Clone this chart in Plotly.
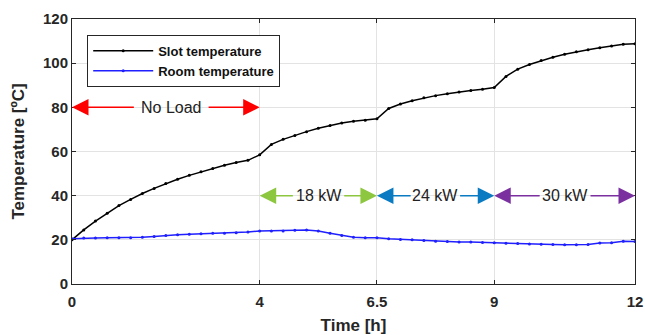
import plotly.graph_objects as go

time_h = [i * 0.25 for i in range(49)]
slot_temp = [20.0, 24.5, 28.5, 32.0, 35.5, 38.3, 41.0, 43.3, 45.5, 47.4, 49.2, 50.8, 52.3, 53.8,
             55.0, 56.0, 58.5, 63.2, 65.5, 67.3, 69.0, 70.5, 71.8, 72.9, 73.7, 74.2, 74.8,
             79.5, 81.5, 83.0, 84.3, 85.3, 86.2, 87.0, 87.6, 88.2, 89.0, 94.0, 97.3, 99.4,
             101.2, 102.7, 104.0, 105.2, 106.1, 107.0, 107.8, 108.6, 108.8]
room_temp = [20.5, 20.8, 20.8, 21.0, 21.0, 21.0, 21.2, 21.5, 22.0, 22.3, 22.5, 22.7, 23.0, 23.0,
             23.2, 23.5, 24.0, 24.0, 24.0, 24.3, 24.5, 24.0, 23.0, 22.0, 21.2, 21.0, 21.0,
             20.5, 20.2, 20.0, 19.7, 19.4, 19.2, 19.0, 19.0, 18.8, 18.7, 18.5, 18.3, 18.1,
             18.0, 17.9, 17.8, 17.8, 17.9, 18.6, 18.7, 19.4, 19.2]

x_ticks = [0, 4, 6.5, 9, 12]
y_ticks = [0, 20, 40, 60, 80, 100, 120]

# load periods: (start, end, label, text_left, text_right, y, color)
periods = [
    (0, 4, "No Load", 1.33, 2.9, 80, "#ff0000"),
    (4, 6.5, "18 kW", 4.72, 5.79, 40, "#8dc63f"),
    (6.5, 9, "24 kW", 7.23, 8.26, 40, "#0a7bc2"),
    (9, 12, "30 kW", 9.98, 11.04, 40, "#7b30a0"),
]

fig = go.Figure()
fig.add_trace(go.Scatter(x=time_h, y=slot_temp, mode="lines+markers", name="Slot temperature",
                         line=dict(color="black", width=1.5), marker=dict(size=3, color="black")))
fig.add_trace(go.Scatter(x=time_h, y=room_temp, mode="lines+markers", name="Room temperature",
                         line=dict(color="#1f1fff", width=1.5), marker=dict(size=3, color="#1f1fff")))

anns = []
for s, e, lab, tl, tr, y, c in periods:
    anns.append(dict(x=(tl + tr) / 2, y=y, text=lab, showarrow=False,
                     font=dict(size=16, color="#222222", family="Liberation Sans, Arial")))
    anns.append(dict(x=s, y=y, ax=tl + 0.02, ay=y, axref="x", ayref="y", xref="x", yref="y", text="",
                     showarrow=True, arrowhead=2, arrowsize=2.2, arrowwidth=1.5, arrowcolor=c,
                     standoff=0, startstandoff=0))
    anns.append(dict(x=e, y=y, ax=tr - 0.02, ay=y, axref="x", ayref="y", xref="x", yref="y", text="",
                     showarrow=True, arrowhead=2, arrowsize=2.2, arrowwidth=1.5, arrowcolor=c,
                     standoff=0, startstandoff=0))

fig.update_layout(
    width=645, height=335,
    margin=dict(l=72, r=10, t=19, b=51, autoexpand=False),
    plot_bgcolor="white", paper_bgcolor="white",
    font=dict(family="Liberation Sans, Arial", color="#262626"),
    showlegend=True,
    legend=dict(x=0.027, y=0.94, xanchor="left", yanchor="top", bgcolor="white",
                bordercolor="#262626", borderwidth=1, font=dict(size=13, color="#111111", weight="bold"),
                tracegroupgap=0, itemwidth=60),
    annotations=anns,
)
fig.update_xaxes(range=[0, 12], tickvals=x_ticks, ticktext=[str(v) for v in x_ticks],
                 showgrid=True, gridcolor="#e3e3e3", gridwidth=1,
                 showline=True, linecolor="#262626", linewidth=1, mirror="ticks",
                 ticks="inside", ticklen=4, tickcolor="#262626", automargin=False,
                 ticklabelstandoff=4,
                 tickfont=dict(size=15, weight="bold"), zeroline=False,
                 title=dict(text="Time [h]", font=dict(size=17, weight="bold"), standoff=10))
fig.update_yaxes(range=[0, 120], tickvals=y_ticks,
                 showgrid=True, gridcolor="#e3e3e3", gridwidth=1,
                 showline=True, linecolor="#262626", linewidth=1, mirror="ticks",
                 ticks="inside", ticklen=4, tickcolor="#262626", automargin=False,
                 tickfont=dict(size=15, weight="bold"), zeroline=False,
                 title=dict(text="Temperature [ºC]", font=dict(size=17, weight="bold"), standoff=14))

fig.write_html("out.html")
